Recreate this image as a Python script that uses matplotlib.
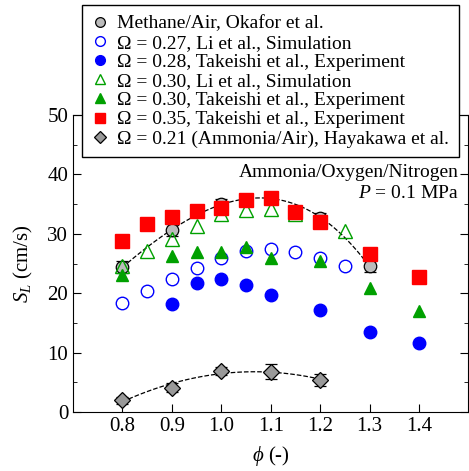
import numpy as np
import matplotlib
matplotlib.use("Agg")
from matplotlib import pyplot as plt
from matplotlib.lines import Line2D

plt.rcParams['font.family'] = ['Liberation Serif', 'DejaVu Serif']
plt.rcParams['mathtext.fontset'] = 'custom'
plt.rcParams['mathtext.rm'] = 'Liberation Serif'
plt.rcParams['mathtext.it'] = 'Liberation Serif:italic'

# Methane/Air, Okafor et al.
phi_ch4 = [0.8, 0.9, 1.0, 1.1, 1.2, 1.3]
sl_ch4 = [24.4, 30.6, 35.0, 36.0, 32.7, 24.5]
err_ch4 = [1.0, 1.0, 0.8, 0.8, 0.8, 1.0]

# Omega = 0.27, Li et al., simulation
phi_li27 = [0.8, 0.85, 0.9, 0.95, 1.0, 1.05, 1.1, 1.15, 1.2, 1.25]
sl_li27 = [18.4, 20.4, 22.4, 24.2, 25.9, 27.1, 27.4, 26.9, 25.9, 24.6]

# Omega = 0.28, Takeishi et al., experiment
phi_tk28 = [0.9, 0.95, 1.0, 1.05, 1.1, 1.2, 1.3, 1.4]
sl_tk28 = [18.1, 21.8, 22.4, 21.4, 19.7, 17.2, 13.5, 11.6]

# Omega = 0.30, Li et al., simulation
phi_li30 = [0.8, 0.85, 0.9, 0.95, 1.0, 1.05, 1.1, 1.15, 1.25]
sl_li30 = [24.6, 27.1, 29.1, 31.3, 33.3, 34.0, 34.2, 33.3, 30.4]

# Omega = 0.30, Takeishi et al., experiment
phi_tk30 = [0.8, 0.9, 0.95, 1.0, 1.05, 1.1, 1.2, 1.3, 1.4]
sl_tk30 = [23.1, 26.3, 27.0, 27.0, 27.7, 26.0, 25.4, 20.8, 17.0]

# Omega = 0.35, Takeishi et al., experiment
phi_tk35 = [0.8, 0.85, 0.9, 0.95, 1.0, 1.05, 1.1, 1.15, 1.2, 1.3, 1.4]
sl_tk35 = [28.8, 31.6, 32.9, 33.9, 34.4, 35.7, 36.1, 33.6, 32.0, 26.6, 22.8]

# Ammonia/Air, Hayakawa et al.
phi_nh3 = [0.8, 0.9, 1.0, 1.1, 1.2]
sl_nh3 = [2.0, 4.1, 6.9, 6.8, 5.4]
err_nh3 = [0.6, 0.8, 0.7, 1.3, 1.05]

xticks = [0.8, 0.9, 1.0, 1.1, 1.2, 1.3, 1.4]

labels = ['Methane/Air, Okafor et al.',
          'Ω = 0.27, Li et al., Simulation',
          'Ω = 0.28, Takeishi et al., Experiment',
          'Ω = 0.30, Li et al., Simulation',
          'Ω = 0.30, Takeishi et al., Experiment',
          'Ω = 0.35, Takeishi et al., Experiment',
          'Ω = 0.21 (Ammonia/Air), Hayakawa et al.']

BLUE = '#0000ff'
GREEN = '#00a000'
RED = '#ff0000'

fig = plt.figure(figsize=(4.69, 4.71), dpi=100)
ax = fig.add_axes([0.1557, 0.1253, 0.9988 - 0.1557, 0.7558 - 0.1253])

# trend lines (fits of the data)
c1 = np.polyfit(phi_ch4, sl_ch4, 3)
xf = np.linspace(0.8, 1.3, 100)
ax.plot(xf, np.polyval(c1, xf), 'k--', lw=0.9, zorder=1)
c2 = np.polyfit(phi_nh3, sl_nh3, 2)
xf2 = np.linspace(0.8, 1.2, 100)
ax.plot(xf2, np.polyval(c2, xf2), 'k--', lw=0.9, zorder=1)

ax.errorbar(phi_ch4, sl_ch4, yerr=err_ch4, fmt='o', ms=9, mfc='#bbbbbb', mec='k',
            mew=0.9, ecolor='k', elinewidth=1, capsize=4, zorder=2)
ax.plot(phi_li27, sl_li27, 'o', ms=9, mfc='none', mec=BLUE, mew=1.0, zorder=3)
ax.plot(phi_tk28, sl_tk28, 'o', ms=9, mfc=BLUE, mec=BLUE, zorder=3)
ax.plot(phi_tk30, sl_tk30, '^', ms=9, mfc=GREEN, mec=GREEN, zorder=4)
ax.plot(phi_li30, sl_li30, '^', ms=10, mfc='none', mec=GREEN, mew=1.0, zorder=5)
ax.plot(phi_tk35, sl_tk35, 's', ms=10, mfc=RED, mec=RED, zorder=6)
ax.errorbar(phi_nh3, sl_nh3, yerr=err_nh3, fmt='D', ms=8, mfc='#999999', mec='k',
            mew=0.9, ecolor='k', elinewidth=1, capsize=4, zorder=2)

proxies = [
    Line2D([], [], ls='none', marker='o', ms=7, mfc='#bbbbbb', mec='k', mew=0.9),
    Line2D([], [], ls='none', marker='o', ms=7, mfc='none', mec=BLUE, mew=1.0),
    Line2D([], [], ls='none', marker='o', ms=7, mfc=BLUE, mec=BLUE),
    Line2D([], [], ls='none', marker='^', ms=7, mfc='none', mec=GREEN, mew=1.0),
    Line2D([], [], ls='none', marker='^', ms=7, mfc=GREEN, mec=GREEN),
    Line2D([], [], ls='none', marker='s', ms=7, mfc=RED, mec=RED),
    Line2D([], [], ls='none', marker='D', ms=6, mfc='#999999', mec='k', mew=0.9),
]
leg = ax.legend(proxies, labels, loc='upper left',
                bbox_to_anchor=(0.023, 1.37), fontsize=14, frameon=True, fancybox=False,
                framealpha=1, edgecolor='k', handlelength=0.8, handletextpad=0.5,
                labelspacing=0.08, borderpad=0.5, borderaxespad=0)
leg.get_frame().set_linewidth(1.0)
leg.set_zorder(10)

ax.text(0.975, 0.808, 'Ammonia/Oxygen/Nitrogen', transform=ax.transAxes,
        ha='right', va='center', fontsize=14)
ax.text(0.975, 0.737, '$P$ = 0.1 MPa', transform=ax.transAxes,
        ha='right', va='center', fontsize=14)

ax.set_xlim(0.7, 1.5)
ax.set_ylim(0, 50)
ax.set_xticks(xticks)
ax.set_xticklabels([f'{v:.1f}' for v in xticks])
ax.set_yticks(range(0, 51, 10))
ax.set_yticks(range(5, 50, 10), minor=True)
ax.tick_params(which='both', direction='in', top=True, right=True, labelsize=15)
ax.tick_params(which='major', length=6)
ax.tick_params(which='minor', length=3)
ax.set_xlabel('$\\phi$ (-)', fontsize=15, labelpad=6)
ax.set_ylabel('$S_L$ (cm/s)', fontsize=15, labelpad=9)

fig.savefig('out.png', dpi=100)
